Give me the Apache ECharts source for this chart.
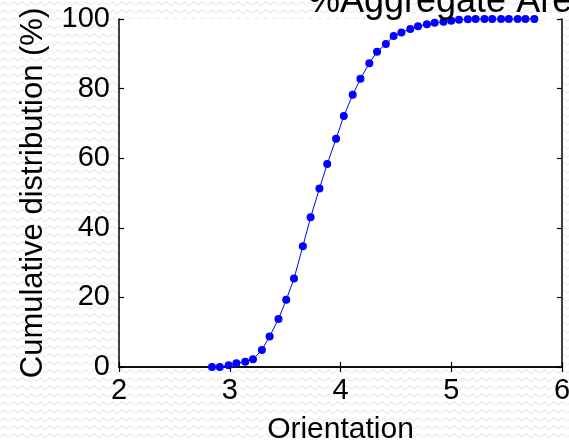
<!DOCTYPE html>
<html>
<head>
<meta charset="utf-8">
<script src="https://cdn.jsdelivr.net/npm/echarts@6/dist/echarts.min.js"></script>
<style>
html,body{margin:0;padding:0;background:#fff;}
#chart{width:569px;height:441px;}
</style>
</head>
<body>
<div id="chart"></div>
<script>
// Data
var orientation = [2.84, 2.91, 2.99, 3.06, 3.14, 3.21, 3.29, 3.36, 3.44, 3.51,
                   3.58, 3.66, 3.73, 3.81, 3.88, 3.96, 4.03, 4.11, 4.18, 4.26,
                   4.33, 4.41, 4.48, 4.55, 4.63, 4.70, 4.78, 4.85, 4.93, 5.00,
                   5.07, 5.15, 5.22, 5.30, 5.37, 5.45, 5.52, 5.60, 5.67, 5.75];
var cumulative = [0, 0, 0.5, 1.1, 1.5, 2.2, 4.9, 8.8, 13.8, 19.3,
                  25.4, 34.7, 43.0, 51.3, 58.3, 65.6, 72.1, 78.2, 82.8, 87.3,
                  90.6, 92.8, 95.1, 96.1, 97.1, 97.9, 98.5, 98.9, 99.2, 99.5,
                  99.8, 99.9, 100, 100, 100, 100, 100, 100, 100, 100];
var xTicks = [2, 3, 4, 5, 6];
var yTicks = [0, 20, 40, 60, 80, 100];
var titleText = '%Aggregate Area';
var xName = 'Orientation';
var yName = 'Cumulative distribution (%)';

var points = orientation.map(function (x, i) { return [x, cumulative[i]]; });

// faint zig-zag watermark pattern for the page background
function makePattern() {
  var c = document.createElement('canvas');
  c.width = 9; c.height = 8;
  var g = c.getContext('2d');
  g.fillStyle = '#ffffff';
  g.fillRect(0, 0, 9, 8);
  g.strokeStyle = '#ececec';
  g.lineWidth = 1.2;
  g.beginPath();
  g.moveTo(0, 5); g.lineTo(4.5, 2); g.lineTo(9, 5);
  g.stroke();
  return c;
}

var font = 'Liberation Sans, Arial, Helvetica, sans-serif';
var chart = echarts.init(document.getElementById('chart'), null, {renderer: 'canvas'});
var axisLine = {show: true, lineStyle: {color: '#000', width: 1.5}};
var tick = {show: true, inside: true, length: 5, lineStyle: {color: '#000', width: 1.2}};

chart.setOption({
  animation: false,
  backgroundColor: {image: makePattern(), repeat: 'repeat'},
  title: {
    text: titleText,
    left: 303,
    top: -21,
    textStyle: {fontFamily: font, fontSize: 36, fontWeight: 'normal', color: '#000'}
  },
  grid: {
    left: 119, right: 7, top: 19, bottom: 74,
    outerBoundsMode: 'none',
    containLabel: false,
    show: true, backgroundColor: '#fff', borderWidth: 0
  },
  xAxis: [{
    type: 'value', min: 2, max: 6, interval: 1,
    name: xName, nameLocation: 'middle', nameGap: 48,
    nameTextStyle: {fontFamily: font, fontSize: 30, color: '#000'},
    axisLine: axisLine, axisTick: tick,
    axisLabel: {fontFamily: font, fontSize: 29, color: '#000', margin: 9,
      formatter: function (v) { return xTicks.indexOf(v) >= 0 ? String(v) : ''; }},
    splitLine: {show: false}
  }, {
    type: 'value', min: 2, max: 6, interval: 1, position: 'top',
    axisLine: axisLine, axisTick: tick, axisLabel: {show: false}, splitLine: {show: false}
  }],
  yAxis: [{
    type: 'value', min: 0, max: 100, interval: 20,
    name: yName, nameLocation: 'middle', nameGap: 70, nameRotate: 90,
    nameTextStyle: {fontFamily: font, fontSize: 31, color: '#000'},
    axisLine: axisLine, axisTick: tick,
    axisLabel: {fontFamily: font, fontSize: 29, color: '#000', margin: 9,
      formatter: function (v) { return yTicks.indexOf(v) >= 0 ? String(v) : ''; }},
    splitLine: {show: false}
  }, {
    type: 'value', min: 0, max: 100, interval: 20, position: 'right',
    axisLine: axisLine, axisTick: tick, axisLabel: {show: false}, splitLine: {show: false}
  }],
  series: [{
    type: 'line',
    data: points,
    symbol: 'circle',
    symbolSize: 8,
    showSymbol: true,
    clip: false,
    lineStyle: {color: '#0000ff', width: 1},
    itemStyle: {color: '#0000ff', borderWidth: 0}
  }]
});
</script>
</body>
</html>
